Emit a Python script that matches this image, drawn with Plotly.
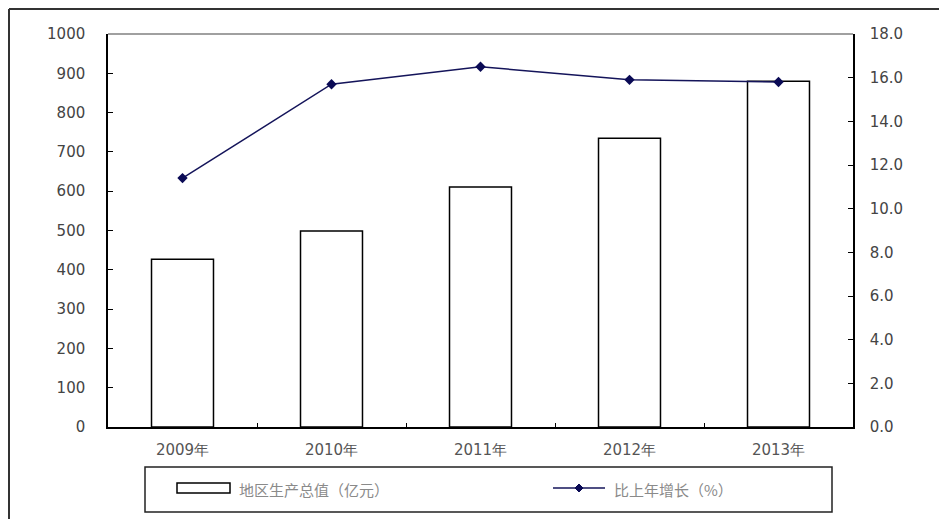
import plotly.graph_objects as go

years = ["2009年", "2010年", "2011年", "2012年", "2013年"]
gdp = [427, 499, 611, 735, 880]
growth = [11.4, 15.7, 16.5, 15.9, 15.8]
bar_name = "地区生产总值（亿元）"
line_name = "比上年增长（%）"

# page places the figure 8px in from the top-left (body margin)
OFF = 8
W, H = 947 - OFF, 519 - OFF
# screen-pixel plot area: x 108..853, y 34..427
L, R, T, B = 108 - OFF, 947 - 853, 34 - OFF, 519 - 427
pw, ph = W - L - R, H - T - B

def px(x):
    return (x - OFF - L) / pw

def py(y):
    return (H - B - (y - OFF)) / ph

fig = go.Figure()
fig.add_trace(go.Bar(
    x=years, y=gdp, name=bar_name, yaxis="y",
    marker=dict(color="white", line=dict(color="black", width=1.5)),
    showlegend=False,
))
fig.add_trace(go.Scatter(
    x=years, y=growth, name=line_name, yaxis="y2", mode="lines+markers",
    line=dict(color="#14145a", width=1.5),
    marker=dict(symbol="diamond", size=8, color="#0a0a55"),
    showlegend=False,
))

tickfont = dict(family="DejaVu Sans", size=15, color="#444444")

fig.update_layout(
    width=W, height=H,
    margin=dict(l=L, r=R, t=T, b=B),
    paper_bgcolor="white", plot_bgcolor="white",
    bargap=0.584,
    xaxis=dict(
        type="category", showline=True, linecolor="black", linewidth=1.5,
        ticks="inside", tickson="boundaries", ticklen=4, tickcolor="black",
        tickfont=dict(family="DejaVu Sans", size=15, color="#555555"),
        showgrid=False, zeroline=False, ticklabelstandoff=8,
    ),
    yaxis=dict(
        range=[0, 1000], dtick=100, showline=True, linecolor="black", linewidth=1.5,
        ticks="inside", ticklen=5, tickcolor="black", tickfont=tickfont,
        showgrid=False, zeroline=False, ticklabelstandoff=18,
    ),
    yaxis2=dict(
        range=[0, 18], dtick=2, tickformat=".1f", overlaying="y", side="right",
        showline=True, linecolor="black", linewidth=1.5,
        ticks="inside", ticklen=5, tickcolor="black", tickfont=tickfont,
        showgrid=False, zeroline=False, ticklabelstandoff=12,
    ),
    showlegend=False,
)

shapes = []
# plot area top border
shapes.append(dict(type="line", xref="paper", yref="paper", x0=0, x1=1, y0=1, y1=1,
                   line=dict(color="#808080", width=1.5)))
# outer frame (top and left visible)
shapes.append(dict(type="line", xref="paper", yref="paper", x0=px(9), x1=px(960),
                   y0=py(9), y1=py(9), line=dict(color="#333333", width=2)))
shapes.append(dict(type="line", xref="paper", yref="paper", x0=px(9), x1=px(9),
                   y0=py(9), y1=py(530), line=dict(color="#333333", width=2)))
# legend box
shapes.append(dict(type="rect", xref="paper", yref="paper", x0=px(145), x1=px(832),
                   y0=py(467), y1=py(512), line=dict(color="#222222", width=1.5),
                   fillcolor="white"))
# legend bar symbol
shapes.append(dict(type="rect", xref="paper", yref="paper", x0=px(177), x1=px(230),
                   y0=py(483), y1=py(493), line=dict(color="black", width=1.5),
                   fillcolor="white"))
# legend line symbol
shapes.append(dict(type="line", xref="paper", yref="paper", x0=px(553), x1=px(605),
                   y0=py(488), y1=py(488), line=dict(color="#14145a", width=1.5)))
shapes.append(dict(type="path", xref="paper", yref="paper", xsizemode="pixel",
                   ysizemode="pixel", xanchor=px(579), yanchor=py(488),
                   path="M -4 0 L 0 4 L 4 0 L 0 -4 Z",
                   fillcolor="#0a0a55", line=dict(color="#0a0a55", width=1)))
fig.update_layout(shapes=shapes)

fig.add_annotation(xref="paper", yref="paper", x=px(237), y=py(489), text=bar_name,
                   showarrow=False, xanchor="left", yanchor="middle",
                   font=dict(family="Noto Sans CJK SC", size=15, color="#8a8a8a"))
fig.add_annotation(xref="paper", yref="paper", x=px(612), y=py(489), text=line_name,
                   showarrow=False, xanchor="left", yanchor="middle",
                   font=dict(family="Noto Sans CJK SC", size=15, color="#8a8a8a"))

fig.write_html("out.html")
